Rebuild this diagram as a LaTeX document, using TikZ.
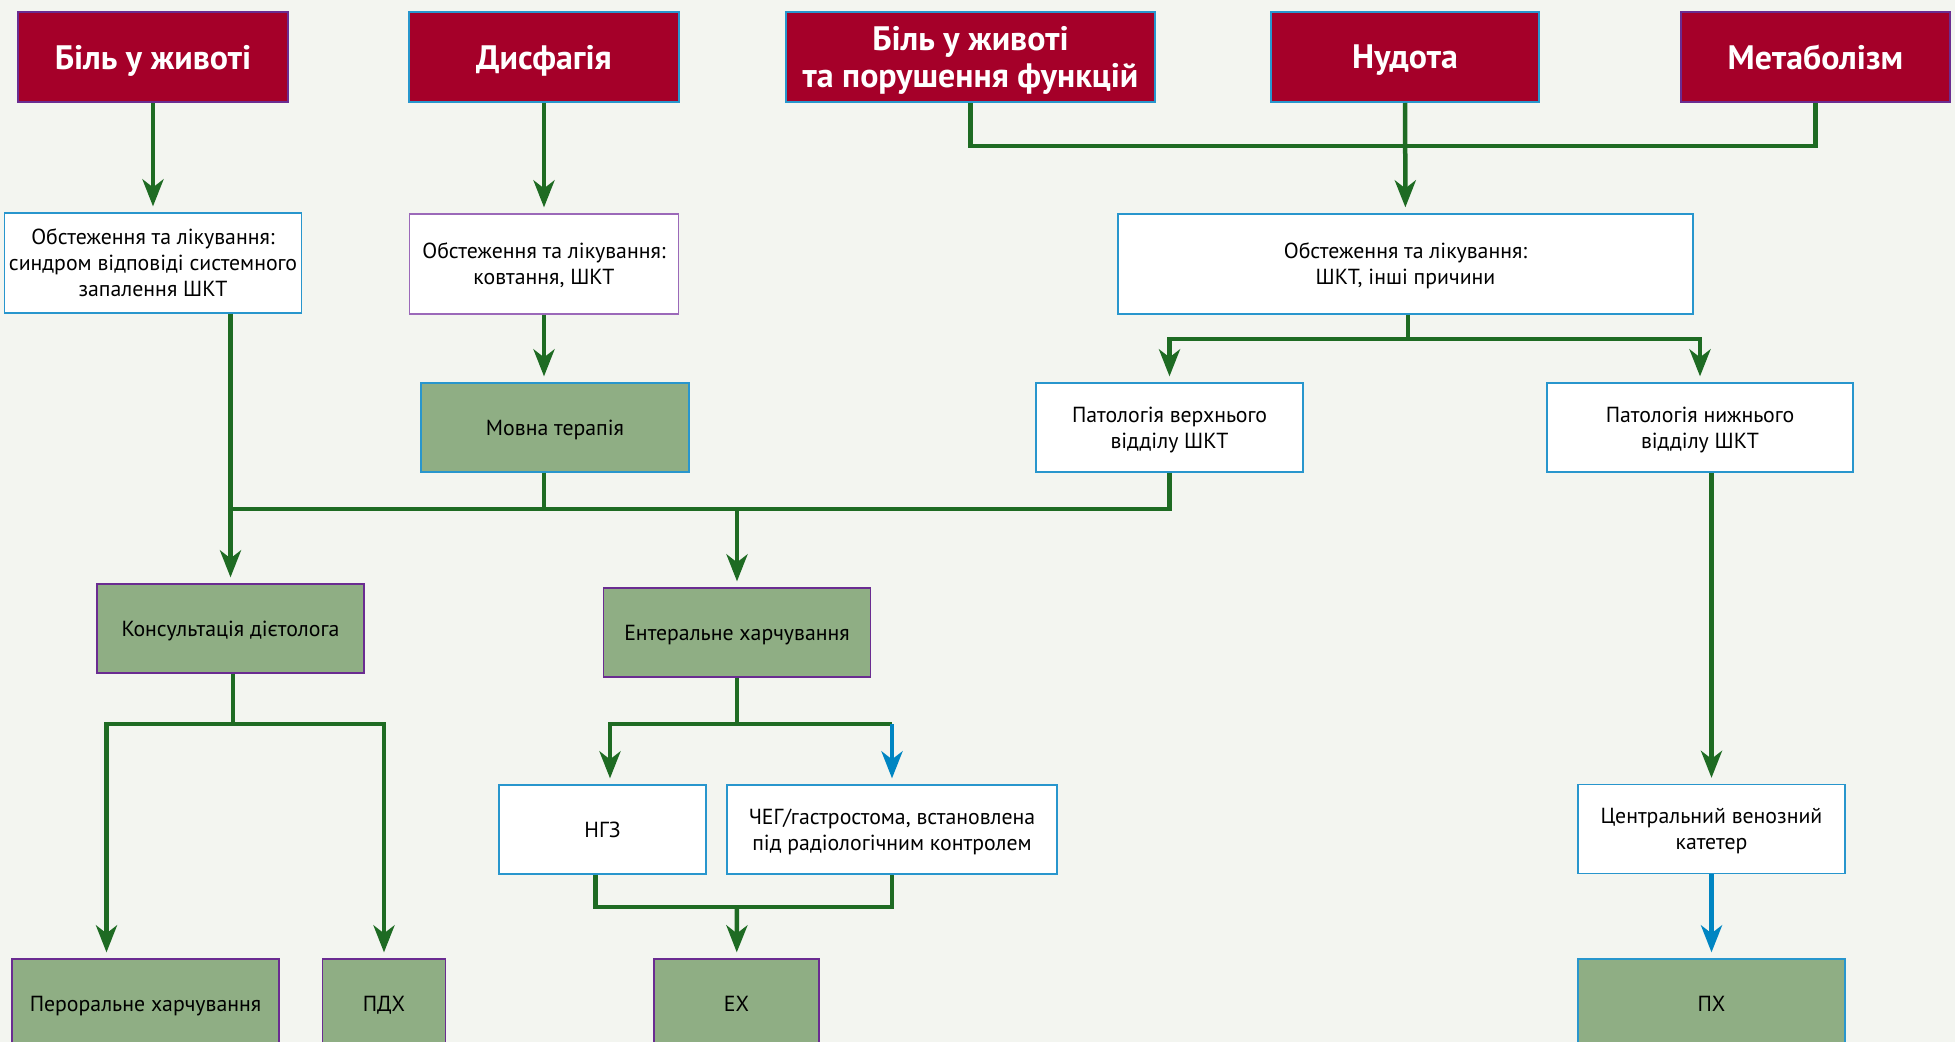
\documentclass[tikz,border=0pt]{standalone}
\usepackage{fontspec}
\setmainfont{PT Sans}
\usetikzlibrary{arrows.meta}
\definecolor{bg}{RGB}{243,245,240}
\definecolor{crim}{RGB}{165,0,41}
\definecolor{sage}{RGB}{143,174,132}
\definecolor{dkgreen}{RGB}{30,107,35}
\definecolor{lblue}{RGB}{0,133,194}
\definecolor{bblue}{RGB}{40,150,205}
\definecolor{purp}{RGB}{106,44,145}
\definecolor{lpurp}{RGB}{155,105,185}
\begin{document}
\begin{tikzpicture}[x=0.2mm, y=-0.2mm, line join=miter,
	head/.style={draw, fill=crim, line width=0.4mm, text=white, font=\fontsize{19.3}{20.6}\selectfont\bfseries, align=center, minimum height=18mm, inner sep=0pt, text depth=-1pt},
	wbox/.style={draw=bblue, fill=white, line width=0.25mm, font=\fontsize{12.4}{14.8}\selectfont, align=center, minimum height=17.8mm, inner sep=0pt, text depth=0pt},
	gbox/.style={wbox, fill=sage},
	conn/.style={draw=dkgreen, line width=0.9mm},
	arr/.style={conn, -{Stealth[length=5.4mm, width=4.2mm, inset=1.6mm]}, shorten >=1.2mm},
	barr/.style={arr, draw=lblue}]
	\useasboundingbox (0,0) rectangle (1955,1042);
	\fill[bg] (0,0) rectangle (1955,1042);
	\clip (0,0) rectangle (1955,1042);
	% верхній ряд
	\node[head, draw=purp, minimum width=54mm] (pain) at (153,57) {Біль у животі};
	\node[head, draw=bblue, minimum width=54mm] (dysph) at (544,57) {Дисфагія};
	\node[head, draw=bblue, minimum width=73.8mm] (painf) at (970.5,57) {Біль у животі\\та порушення функцій};
	\node[head, draw=bblue, minimum width=53.6mm] (nausea) at (1405,57) {Нудота};
	\node[head, draw=purp, minimum width=53.8mm] (metab) at (1815.5,57) {Метаболізм};
	% обстеження
	\node[wbox, minimum width=59.4mm, minimum height=20mm] (exsirs) at (153,263) {Обстеження та лікування:\\синдром відповіді системного\\запалення ШКТ};
	\node[wbox, draw=lpurp, minimum width=53.8mm, minimum height=20mm] (exswal) at (544,264) {Обстеження та лікування:\\ковтання, ШКТ};
	\node[wbox, minimum width=115mm, minimum height=20mm] (exgit) at (1405.5,264) {Обстеження та лікування:\\ШКТ, інші причини};
	\node[gbox, minimum width=53.6mm] (speech) at (555,427.5) {Мовна терапія};
	\node[wbox, minimum width=53.4mm] (upper) at (1169.5,427.5) {Патологія верхнього\\відділу ШКТ};
	\node[wbox, minimum width=61.2mm] (lower) at (1700,427.5) {Патологія нижнього\\відділу ШКТ};
	\node[gbox, draw=purp, minimum width=53.4mm] (diet) at (230.5,628.5) {Консультація дієтолога};
	\node[gbox, draw=purp, minimum width=53.5mm] (enteral) at (737,632.5) {Ентеральне харчування};
	\node[wbox, minimum width=41.4mm] (ngt) at (602.5,829.5) {НГЗ};
	\node[wbox, minimum width=66mm] (peg) at (892,829.5) {ЧЕГ/гастростома, встановлена\\під радіологічним контролем};
	\node[wbox, minimum width=53.4mm] (cvc) at (1711.5,829) {Центральний венозний\\катетер};
	% нижній ряд
	\node[gbox, draw=purp, minimum width=53.4mm] (oral) at (145.5,1003.5) {Пероральне харчування};
	\node[gbox, draw=purp, minimum width=24.7mm] (onsup) at (384,1003.5) {ПДХ};
	\node[gbox, draw=purp, minimum width=33mm] (en) at (736.5,1003.5) {ЕХ};
	\node[gbox, minimum width=53.4mm] (pn) at (1711.5,1003.5) {ПХ};
	% зв'язки
	\draw[arr] (pain) -- (exsirs);
	\draw[arr] (dysph) -- (exswal);
	\coordinate (topj) at (1405,146);
	\draw[conn] (painf) |- (topj) -| (metab);
	\draw[arr] (nausea) -- (exgit);
	\coordinate (gij) at (1408,339);
	\draw[conn] (exgit.south -| gij) -- (gij);
	\draw[arr] (gij) -| (upper);
	\draw[arr] (gij) -| (lower);
	\draw[arr] (exswal) -- (exswal |- speech.north);
	\coordinate (bus) at (231,509);
	\draw[arr] (exsirs.south -| diet) -- (diet);
	\draw[conn] (upper) |- (bus);
	\draw[conn] (speech.south -| exswal) -- (exswal |- bus);
	\draw[arr] (enteral |- bus) -- (enteral);
	\coordinate (dj) at (233,724);
	\draw[conn] (diet.south -| dj) -- (dj);
	\draw[arr] (dj) -| ([xshift=-7.8mm]oral.north);
	\draw[arr] (dj) -| (onsup);
	\coordinate (ej) at (737,724);
	\draw[conn] (enteral) -- (ej);
	\draw[arr] (ej) -| ([xshift=1.5mm]ngt.north);
	\draw[conn] (ej) -- (ej -| peg);
	\draw[barr] (ej -| peg) -- (peg);
	\coordinate (mj) at (737,907);
	\draw[conn] ([xshift=-1.4mm]ngt.south) |- (mj) -| (peg);
	\draw[arr] (mj) -- (en);
	\draw[arr] (lower.south -| cvc) -- (cvc);
	\draw[barr] (cvc) -- (pn);
\end{tikzpicture}
\end{document}
